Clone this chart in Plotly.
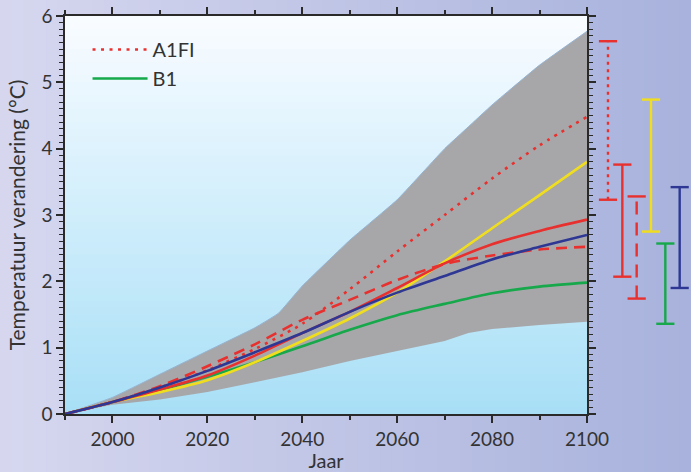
import plotly.graph_objects as go

# ---------------- data ----------------
years = [1990, 2000, 2010, 2020, 2030, 2040, 2050, 2060, 2070, 2080, 2090, 2100]
a1fi = [0, 0.18, 0.40, 0.66, 0.98, 1.36, 1.88, 2.45, 3.00, 3.55, 4.05, 4.48]
a1b = [0, 0.18, 0.37, 0.58, 0.88, 1.22, 1.54, 1.90, 2.27, 2.56, 2.76, 2.93]
a2 = [0, 0.18, 0.42, 0.72, 1.05, 1.42, 1.72, 2.02, 2.26, 2.39, 2.48, 2.52]
b2 = [0, 0.18, 0.33, 0.51, 0.78, 1.10, 1.44, 1.83, 2.30, 2.80, 3.30, 3.80]
b1 = [0, 0.18, 0.36, 0.56, 0.78, 1.02, 1.27, 1.49, 1.66, 1.82, 1.92, 1.98]
a1t = [0, 0.18, 0.40, 0.65, 0.93, 1.22, 1.54, 1.83, 2.08, 2.33, 2.52, 2.70]

band_years = [1990, 2000, 2010, 2020, 2030, 2035, 2040, 2050, 2060, 2070, 2075, 2080, 2090, 2100]
band_upper = [0, 0.25, 0.60, 0.95, 1.30, 1.52, 1.93, 2.62, 3.23, 4.00, 4.33, 4.66, 5.26, 5.77]
band_lower = [0, 0.14, 0.22, 0.33, 0.48, 0.55, 0.63, 0.80, 0.95, 1.10, 1.22, 1.28, 1.34, 1.39]

range_names = ["A1FI", "A1B", "A2", "B2", "B1", "A1T"]
range_low = [3.23, 2.07, 1.74, 2.75, 1.36, 1.90]
range_high = [5.62, 3.76, 3.28, 4.74, 2.57, 3.42]

x_tick_vals = [2000, 2020, 2040, 2060, 2080, 2100]
y_tick_vals = [0, 1, 2, 3, 4, 5, 6]

# ---------------- styles ----------------
RED = "rgb(232,48,46)"
GREEN = "rgb(22,168,74)"
YELLOW = "rgb(240,222,30)"
BLUE = "rgb(46,56,148)"
DOT = "3px,5.5px"
DASH = "11px,7px"
FONT = "Lato"
TXT = "#333333"

W, H = 691, 472
ML, MR, MT, MB = 65, 0, 16, 58
PW = W - ML - MR
PH = H - MT - MB
main_right = 522 / PW

fig = go.Figure()

# band
fig.add_trace(go.Scatter(x=band_years, y=band_lower, mode="lines",
                         line=dict(color="rgba(0,0,0,0)", width=0),
                         showlegend=False, hoverinfo="skip"))
fig.add_trace(go.Scatter(x=band_years, y=band_upper, mode="lines", fill="tonexty",
                         fillcolor="rgb(167,167,170)",
                         line=dict(color="rgb(150,180,210)", width=1, shape="spline", smoothing=0.3),
                         showlegend=False, hoverinfo="skip"))

series = [
    (b1, GREEN, "solid", "B1", True),
    (b2, YELLOW, "solid", "B2", False),
    (a1b, RED, "solid", "A1B", False),
    (a2, RED, DASH, "A2", False),
    (a1fi, RED, DOT, "A1FI", True),
    (a1t, BLUE, "solid", "A1T", False),
]
for vals, col, dash, name, leg in series:
    fig.add_trace(go.Scatter(x=years, y=vals, mode="lines", name=name,
                             line=dict(color=col, width=2.6, dash=dash, shape="spline", smoothing=0.8),
                             showlegend=leg, hoverinfo="skip"))

# range bars on right
bar_cols = [RED, RED, RED, YELLOW, GREEN, BLUE]
bar_dash = ["3px,4.5px", "solid", "13px,8px", "solid", "solid", "solid"]
for n, lo, hi, c, d in zip(range_names, range_low, range_high, bar_cols, bar_dash):
    fig.add_trace(go.Scatter(x=[n, n], y=[lo, hi], mode="lines", xaxis="x2", yaxis="y2",
                             line=dict(color=c, width=2.4, dash=d), showlegend=False,
                             hoverinfo="skip"))
    fig.add_trace(go.Scatter(x=[n, n], y=[lo, hi], mode="markers", xaxis="x2", yaxis="y2",
                             marker=dict(symbol="line-ew", size=13,
                                         line=dict(color=c, width=2.4)),
                             showlegend=False, hoverinfo="skip"))

# ---------------- gradients ----------------
def lerp(c1, c2, t):
    return tuple(round(a + (b - a) * t) for a, b in zip(c1, c2))

shapes = []
px0 = -ML / PW
px1 = (W - ML) / PW
py0 = -MB / PH
py1 = (H - MB) / PH
NS = 60
left_c, right_c = (214, 215, 239), (168, 178, 220)
for i in range(NS):
    t = i / (NS - 1)
    c = lerp(left_c, right_c, t)
    x0 = px0 + (px1 - px0) * i / NS
    x1 = px0 + (px1 - px0) * (i + 1) / NS + 0.002
    shapes.append(dict(type="rect", xref="paper", yref="paper", x0=x0, x1=x1, y0=py0, y1=py1,
                       fillcolor="rgb(%d,%d,%d)" % c, line=dict(width=0), layer="below"))
stops = [(0.0, (250, 252, 255)), (0.35, (220, 242, 253)), (1.0, (168, 223, 246))]
for i in range(NS):
    t = (i + 0.5) / NS  # from top
    for (t0, c0), (t1, c1) in zip(stops[:-1], stops[1:]):
        if t0 <= t <= t1:
            c = lerp(c0, c1, (t - t0) / (t1 - t0))
            break
    y1 = 1 - i / NS
    y0 = 1 - (i + 1) / NS - 0.002
    shapes.append(dict(type="rect", xref="paper", yref="paper", x0=0, x1=main_right,
                       y0=max(y0, 0), y1=y1,
                       fillcolor="rgb(%d,%d,%d)" % c, line=dict(width=0), layer="below"))

axis_common = dict(showline=True, linecolor="#2a2a2a", linewidth=1.5, mirror="ticks",
                   ticks="outside", tickcolor="#2a2a2a", tickwidth=1.5, ticklen=7,
                   showgrid=False, zeroline=False, automargin=False,
                   tickfont=dict(family=FONT, size=19, color=TXT))

fig.update_layout(
    width=W, height=H,
    margin=dict(l=ML, r=MR, t=MT, b=MB, autoexpand=False),
    paper_bgcolor="rgb(190,196,228)",
    plot_bgcolor="rgba(0,0,0,0)",
    shapes=shapes,
    showlegend=True,
    legend=dict(x=0.036, y=0.965, xanchor="left", yanchor="top", traceorder="reversed",
                bgcolor="rgba(0,0,0,0)", font=dict(family=FONT, size=20, color=TXT),
                tracegroupgap=0, itemwidth=55),
    xaxis=dict(domain=[0, main_right], range=[1990, 2100], tickvals=x_tick_vals,
               minor=dict(dtick=10, tick0=1990, ticks="outside", ticklen=4, tickwidth=1.5,
                          tickcolor="#2a2a2a"),
               title=dict(text="Jaar", font=dict(family=FONT, size=20, color=TXT), standoff=2),
               **axis_common),
    yaxis=dict(range=[0, 6], tickvals=y_tick_vals,
               minor=dict(dtick=0.1, tick0=0, ticks="outside", ticklen=4, tickwidth=1.2,
                          tickcolor="#2a2a2a"),
               title=dict(text="Temperatuur verandering (°C)",
                          font=dict(family=FONT, size=21, color=TXT), standoff=10),
               **axis_common),
    xaxis2=dict(domain=[main_right, 1], type="category", categoryorder="array",
                categoryarray=range_names, range=[-1.465, 5.79], visible=False,
                anchor="y2"),
    yaxis2=dict(matches="y", anchor="x2", visible=False),
)

fig.write_html("out.html", config={"displayModeBar": False},
               post_script="document.body.style.margin='0';document.body.style.overflow='hidden';")
